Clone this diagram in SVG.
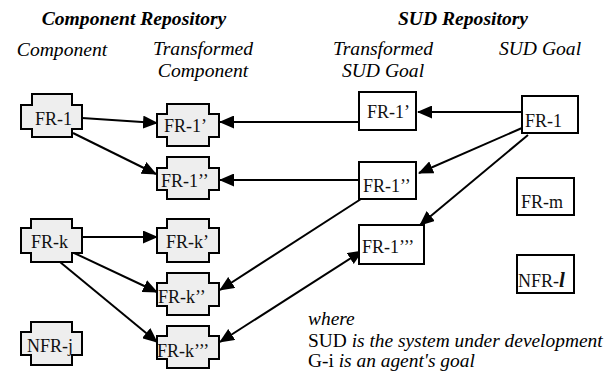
<svg xmlns="http://www.w3.org/2000/svg" width="607" height="375" viewBox="0 0 607 375" font-family="Liberation Serif, DejaVu Serif, serif">
<style>
text{font-family:'Liberation Serif','DejaVu Serif',serif}
.comp{fill:#eeeeee;stroke:#000;stroke-width:2}
.box{fill:#fff;stroke:#000;stroke-width:2}
.lbl{font-size:18px;fill:#111}
.hdr{font-size:19.6px;font-weight:bold;font-style:italic;text-anchor:middle}
.sub{font-size:19.6px;font-style:italic;text-anchor:middle}
.leg{font-size:19.4px}
.it{font-style:italic}
.con{stroke:#000;stroke-width:2;fill:none;marker-end:url(#ah)}
</style>
<defs>
<marker id="ah" markerUnits="userSpaceOnUse" markerWidth="15" markerHeight="13" refX="14" refY="6.5" orient="auto-start-reverse" viewBox="0 0 15 13">
<path d="M0,0 L15,6.5 L0,13 Z" fill="#000"/>
</marker>
</defs>
<rect width="607" height="375" fill="#fff"/>
<g id="headers">
<text class="hdr" x="134" y="25">Component Repository</text>
<text class="hdr" x="463" y="25">SUD Repository</text>
<text class="sub" x="62" y="56">Component</text>
<text class="sub" x="203" y="55">Transformed</text>
<text class="sub" x="203" y="77">Component</text>
<text class="sub" x="383" y="55">Transformed</text>
<text class="sub" x="383" y="77">SUD Goal</text>
<text class="sub" x="540" y="55">SUD Goal</text>
</g>
<g id="connectors">
<line class="con" x1="82" y1="118" x2="157" y2="123"/>
<line class="con" x1="73" y1="133" x2="156" y2="174"/>
<line class="con" x1="359" y1="122" x2="220" y2="122"/>
<line class="con" x1="522" y1="112" x2="418" y2="112"/>
<line class="con" x1="359" y1="180" x2="220" y2="180"/>
<line class="con" x1="522" y1="128" x2="419" y2="173"/>
<line class="con" x1="528" y1="135" x2="420" y2="225"/>
<line class="con" x1="361" y1="199" x2="220" y2="290"/>
<line class="con" x1="220" y1="342" x2="362" y2="251" style="marker-start:url(#ah)"/>
<line class="con" x1="82" y1="237" x2="157" y2="237"/>
<line class="con" x1="72" y1="252" x2="157" y2="292"/>
<line class="con" x1="60" y1="262" x2="157" y2="342"/>
</g>
<g id="c-fr1"><path class="comp" d="M32,94 H72 V105 H82 V129 H72 V137 H32 V129 H21 V105 H32 Z"/><text class="lbl" x="35" y="125">FR-1</text></g>
<g id="c-frk"><path class="comp" d="M31,219 H72 V228 H82 V253 H72 V262 H31 V253 H21 V228 H31 Z"/><text class="lbl" x="31" y="248">FR-k</text></g>
<g id="c-nfrj"><path class="comp" d="M31,322 H72 V332 H82 V355 H72 V365 H31 V355 H21 V332 H31 Z"/><text class="lbl" x="27" y="352">NFR-j</text></g>
<g id="t-fr1p"><path class="comp" d="M167,104 H209 V114 H219 V137 H209 V146 H167 V137 H157 V114 H167 Z"/><text class="lbl" x="164" y="132">FR-1’</text></g>
<g id="t-fr1pp"><path class="comp" d="M167,157 H209 V168 H219 V190 H209 V199 H167 V190 H157 V168 H167 Z"/><text class="lbl" x="161" y="187">FR-1’’</text></g>
<g id="t-frkp"><path class="comp" d="M167,219 H209 V228 H219 V253 H209 V262 H167 V253 H157 V228 H167 Z"/><text class="lbl" x="166" y="248">FR-k’</text></g>
<g id="t-frkpp"><path class="comp" d="M167,273 H209 V283 H219 V306 H209 V315 H167 V306 H157 V283 H167 Z"/><text class="lbl" x="158" y="303">FR-k’’</text></g>
<g id="t-frkppp"><path class="comp" d="M167,326 H209 V336 H219 V359 H209 V368 H167 V359 H157 V336 H167 Z"/><text class="lbl" x="157" y="357">FR-k’’’</text></g>
<g id="s-fr1p"><rect class="box" x="359" y="92" width="57" height="38"/><text class="lbl" x="367" y="118">FR-1’</text></g>
<g id="s-fr1pp"><rect class="box" x="359" y="162" width="57" height="37"/><text class="lbl" x="363" y="192">FR-1’’</text></g>
<g id="s-fr1ppp"><rect class="box" x="359" y="225" width="65" height="39"/><text class="lbl" x="362" y="253">FR-1’’’</text></g>
<g id="s-fr1"><rect class="box" x="522" y="96" width="56" height="37"/><text class="lbl" x="525" y="127">FR-1</text></g>
<g id="s-frm"><rect class="box" x="517" y="178" width="57" height="37"/><text class="lbl" x="521" y="208">FR-m</text></g>
<g id="s-nfrl"><rect class="box" x="517" y="255" width="57" height="38"/><text class="lbl" x="518" y="287">NFR-<tspan font-style="italic" font-weight="bold" font-size="21">l</tspan></text></g>
<g id="legend">
<text class="leg it" x="308" y="325">where</text>
<text class="leg" x="308" y="347">SUD <tspan class="it">is the system under development</tspan></text>
<text class="leg" x="308" y="367">G-i <tspan class="it">is an agent's goal</tspan></text>
</g>
</svg>
